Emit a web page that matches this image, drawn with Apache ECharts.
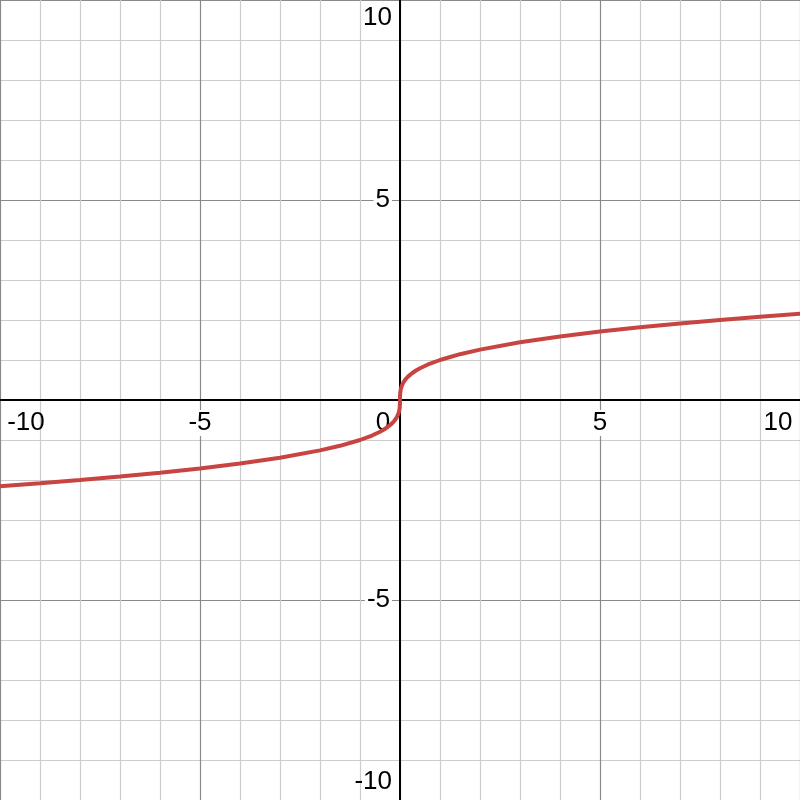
<!DOCTYPE html>
<html>
<head>
<meta charset="utf-8">
<title>cube root curve</title>
<script src="https://cdn.jsdelivr.net/npm/echarts@6/dist/echarts.min.js"></script>
<style>
  html, body { margin: 0; padding: 0; background: #fff; }
  #main { width: 800px; height: 800px; }
</style>
</head>
<body>
<div id="main"></div>
<script>
// points (x, y)
var curveX = [-10.1, -9, -8, -7, -6, -5, -4, -3, -2, -1.5, -1, -0.7, -0.5, -0.4, -0.3, -0.2, -0.15, -0.1, -0.05, -0.03, -0.02, -0.01, -0.005, -0.001, 0,
              0.001, 0.005, 0.01, 0.02, 0.03, 0.05, 0.1, 0.15, 0.2, 0.3, 0.4, 0.5, 0.7, 1, 1.5, 2, 3, 4, 5, 6, 7, 8, 9, 10.1];
var curveY = [-2.162, -2.080, -2.000, -1.913, -1.817, -1.710, -1.587, -1.442, -1.260, -1.145, -1.000, -0.888, -0.794, -0.737, -0.669, -0.585, -0.531, -0.464, -0.368, -0.311, -0.271, -0.215, -0.171, -0.100, 0,
              0.100, 0.171, 0.215, 0.271, 0.311, 0.368, 0.464, 0.531, 0.585, 0.669, 0.737, 0.794, 0.888, 1.000, 1.145, 1.260, 1.442, 1.587, 1.710, 1.817, 1.913, 2.000, 2.080, 2.162];

var axisMin = -10;
var axisMax = 10;
var majorStep = 5;

var dom = document.getElementById('main');
var myChart = echarts.init(dom, null, { renderer: 'canvas' });

var curveData = curveX.map(function (x, i) { return [x, curveY[i]]; });

var labelFont = {
    fontFamily: 'Liberation Sans, Arial, sans-serif',
    fontSize: 26,
    color: '#000'
};

var richStyles = {
    n: Object.assign({ backgroundColor: '#fff', padding: [0, 2] }, labelFont),
    xl: Object.assign({ padding: [0, 0, 0, 52] }, labelFont),
    xr: Object.assign({ padding: [0, 44, 0, 0] }, labelFont),
    xz: Object.assign({ padding: [0, 34, 0, 0] }, labelFont),
    yt: Object.assign({ padding: [36, 0, 0, 0] }, labelFont),
    yb: Object.assign({ padding: [0, 0, 36, 0] }, labelFont)
};

// axes sit in the middle of the 800px plot (the zero lines)
var option = {
    animation: false,
    backgroundColor: '#fff',
    grid: { left: 0, right: 0, top: 0, bottom: 0, containLabel: false, outerBoundsMode: 'none' },
    xAxis: {
        type: 'value',
        position: 'bottom',
        offset: -400,
        min: axisMin,
        max: axisMax,
        interval: majorStep,
        axisLine: { onZero: false, lineStyle: { color: '#000', width: 2 } },
        axisTick: { show: false },
        axisLabel: {
            margin: 10,
            showMinLabel: true,
            showMaxLabel: true,
            hideOverlap: false,
            rich: richStyles,
            formatter: function (v) {
                if (v === axisMin) return '{xl|' + v + '}';
                if (v === axisMax) return '{xr|' + v + '}';
                if (v === 0) return '{xz|0}';
                return '{n|' + v + '}';
            }
        },
        splitLine: { show: true, lineStyle: { color: '#8a8a8a', width: 1.2 } },
        minorTick: { show: false, splitNumber: 5 },
        minorSplitLine: { show: true, lineStyle: { color: '#cccccc', width: 1.2 } }
    },
    yAxis: {
        type: 'value',
        position: 'left',
        offset: -400,
        min: axisMin,
        max: axisMax,
        interval: majorStep,
        axisLine: { onZero: false, lineStyle: { color: '#000', width: 2 } },
        axisTick: { show: false },
        axisLabel: {
            margin: 8,
            showMinLabel: true,
            showMaxLabel: true,
            hideOverlap: false,
            rich: richStyles,
            formatter: function (v) {
                if (v === 0) return '';
                if (v === axisMax) return '{yt|' + v + '}';
                if (v === axisMin) return '{yb|' + v + '}';
                return '{n|' + v + '}';
            }
        },
        splitLine: { show: true, lineStyle: { color: '#8a8a8a', width: 1.2 } },
        minorTick: { show: false, splitNumber: 5 },
        minorSplitLine: { show: true, lineStyle: { color: '#cccccc', width: 1.2 } }
    },
    series: [
        {
            type: 'line',
            data: curveData,
            showSymbol: false,
            smooth: false,
            clip: true,
            lineStyle: { color: '#c74440', width: 4 },
            z: 5
        }
    ]
};

myChart.setOption(option);
window.addEventListener('resize', myChart.resize);
</script>
</body>
</html>
